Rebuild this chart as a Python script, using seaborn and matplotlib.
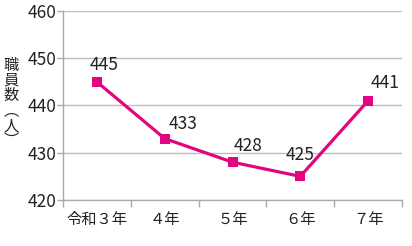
import matplotlib
matplotlib.use("Agg")
import matplotlib.pyplot as plt
import seaborn as sns
import pandas as pd

categories = ["令和３年", "４年", "５年", "６年", "７年"]
values = [445, 433, 428, 425, 441]
yticks = [420, 430, 440, 450, 460]

sns.set_theme(style="white")
plt.rcParams['font.family'] = ['Noto Sans CJK JP', 'DejaVu Sans']

df = pd.DataFrame({"year": categories, "staff": values})

fig = plt.figure(figsize=(4.12, 2.46), dpi=100)
ax = fig.add_axes([63/412, 46/246, 339/412, 189/246])

sns.lineplot(data=df, x="year", y="staff", ax=ax, color="#E2057F", linewidth=2.3,
             marker="s", markersize=6.5, markeredgewidth=0, sort=False)

ax.set_xlim(-0.5, len(categories) - 0.5)
ax.set_ylim(420, 460)
ax.set_yticks(yticks)
ax.set_yticklabels([str(t) for t in yticks], fontsize=12.5, color="#222222")
ax.set_xticks(range(len(categories)))
ax.set_xticklabels(categories, fontsize=11, color="#222222")
ax.yaxis.grid(True, color="#BDBDBD", linewidth=1)
ax.set_axisbelow(True)
ax.set_xlabel("")
ax.set_ylabel("")

for s in ["top", "right"]:
    ax.spines[s].set_visible(False)
for s in ["left", "bottom"]:
    ax.spines[s].set_color("#AAAAAA")
    ax.spines[s].set_linewidth(1)

ax.tick_params(axis="y", which="major", length=4, color="#AAAAAA", width=1, left=True, pad=1)
ax.tick_params(axis="x", which="major", length=0, pad=8)
ax.set_xticks([i - 0.5 for i in range(len(categories) + 1)], minor=True)
ax.tick_params(axis="x", which="minor", length=5, color="#AAAAAA", width=1, bottom=True)

dxs = [7, 18, 15, 0, 17]
dys = [6, 4, 5, 9, 6]
for i, v in enumerate(values):
    ax.annotate(str(v), (i, v), xytext=(dxs[i] * 0.72, dys[i]), textcoords="offset points",
                ha="center", va="bottom", fontsize=12.5, color="#222222")

fig.text(11/412, 1 - 103/246, "職\n員\n数\n︵\n人\n︶", fontsize=11, ha="center", va="center",
         linespacing=0.85, color="#222222")

fig.savefig("out.png", dpi=100)
